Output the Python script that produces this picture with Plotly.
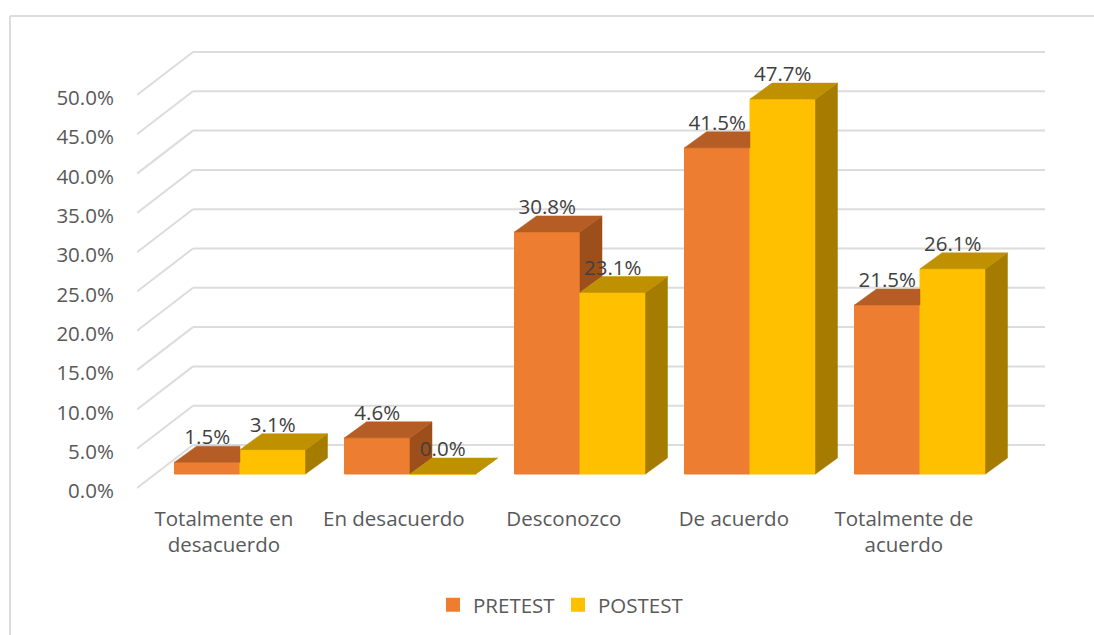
import plotly.graph_objects as go

categories = ["Totalmente en<br>desacuerdo", "En desacuerdo", "Desconozco", "De acuerdo", "Totalmente de<br>acuerdo"]
pretest = [1.5, 4.6, 30.8, 41.5, 21.5]
postest = [3.1, 0.0, 23.1, 47.7, 26.1]
y_ticks = [0, 5, 10, 15, 20, 25, 30, 35, 40, 45, 50]

W, H = 1094, 635
BELOW = 6                # pixels of axis below the front zero line
L, R, T, B = 137, 49, 40, 147 - BELOW
plot_w, plot_h = W - L - R, H - T - B
PX_Y = 393 / 50          # pixels per percentage point
PX_X = 170               # pixels per category
X0 = -103 / PX_X
X1 = X0 + plot_w / PX_X
Y0 = -BELOW / PX_Y
Y1 = Y0 + plot_h / PX_Y
FLOOR = 14 / PX_Y        # bars stand on the floor, above the front zero line
BW = 65.5 / PX_X
DX, DY = 22 / PX_X, 16 / PX_Y     # depth of the bars
WALL_DX, WALL_DY = 56 / PX_X, 43 / PX_Y  # depth of the back wall
LABEL_UP = 23 / PX_Y
TICK_NUDGE = 3 / PX_Y    # y tick labels sit a little below their gridline start

FONT = "Open Sans"
FS = 20.5
AXIS_C, LABEL_C, GRID_C = "#595959", "#404040", "#DCDCDC"
C = {"pre": ("#ED7D31", "#B55D24", "#9C4F1B"), "post": ("#FFC000", "#BF9000", "#A67C00")}

idx = list(range(len(categories)))
fig = go.Figure()

fig.add_bar(name="PRETEST", x=idx, y=pretest, base=FLOOR, width=BW, offset=-BW,
            marker=dict(color=C["pre"][0], line=dict(color=C["pre"][0], width=1)), hoverinfo="skip")
fig.add_bar(name="POSTEST", x=idx, y=postest, base=FLOOR, width=BW, offset=0,
            marker=dict(color=C["post"][0], line=dict(color=C["post"][0], width=1)), hoverinfo="skip")


def poly(xs, ys, color):
    fig.add_scatter(x=xs + xs[:1], y=ys + ys[:1], mode="lines", fill="toself", fillcolor=color,
                    line=dict(color=color, width=0.5), showlegend=False, hoverinfo="skip")


for i, a, b in zip(idx, pretest, postest):
    top_a, top_b = a + FLOOR, b + FLOOR
    xl, xm, xr = i - BW, i, i + BW
    # PRETEST: the POSTEST bar hides whatever is behind it
    if b > a:
        poly([xl, xm, xm, xl + DX], [top_a, top_a, top_a + DY, top_a + DY], C["pre"][1])
    else:
        poly([xm, xm + DX, xm + DX, xm], [top_a, top_a + DY, top_b + DY, top_b], C["pre"][2])
        poly([xl, xm, xm + DX, xl + DX], [top_a, top_a, top_a + DY, top_a + DY], C["pre"][1])
    # POSTEST
    poly([xr, xr + DX, xr + DX, xr], [FLOOR, FLOOR + DY, top_b + DY, top_b], C["post"][2])
    poly([xm, xr, xr + DX, xm + DX], [top_b, top_b, top_b + DY, top_b + DY], C["post"][1])

fig.add_scatter(
    x=[i - BW / 2 for i in idx] + [i + BW / 2 for i in idx],
    y=[v + FLOOR + LABEL_UP for v in pretest + postest],
    text=[f"{v:.1f}%" for v in pretest + postest],
    mode="text", textposition="middle center",
    textfont=dict(family=FONT, size=FS, color=LABEL_C),
    showlegend=False, hoverinfo="skip", cliponaxis=False,
)

shapes = []
for t in y_ticks:
    shapes.append(dict(type="line", xref="x", yref="y", layer="below", x0=X0, y0=t,
                       x1=X0 + WALL_DX, y1=t + WALL_DY, line=dict(color=GRID_C, width=2)))
    shapes.append(dict(type="line", xref="x", yref="y", layer="below", x0=X0 + WALL_DX, y0=t + WALL_DY,
                       x1=X1, y1=t + WALL_DY, line=dict(color=GRID_C, width=2)))
# chart frame: only its top and left edges fall inside the page
frame_y = (T + plot_h - 16) / plot_h
shapes.append(dict(type="line", xref="paper", yref="paper", x0=(10 - L) / plot_w, x1=(W - L) / plot_w,
                   y0=frame_y, y1=frame_y, line=dict(color=GRID_C, width=2)))
shapes.append(dict(type="line", xref="paper", yref="paper", x0=(10 - L) / plot_w, x1=(10 - L) / plot_w,
                   y0=frame_y, y1=-B / plot_h, line=dict(color=GRID_C, width=2)))

fig.update_layout(
    width=W, height=H, margin=dict(l=L, r=R, t=T, b=B, pad=0),
    paper_bgcolor="white", plot_bgcolor="rgba(0,0,0,0)",
    showlegend=True, barmode="overlay", shapes=shapes,
    font=dict(family=FONT, size=FS, color=AXIS_C),
    legend=dict(orientation="h", xref="container", yref="container", x=433 / W, xanchor="left",
                y=1 - 585 / H, yanchor="top", font=dict(family=FONT, size=FS, color=AXIS_C),
                bgcolor="rgba(0,0,0,0)", itemsizing="constant", traceorder="normal",
                entrywidth=80, entrywidthmode="pixels"),
    xaxis=dict(range=[X0, X1], tickmode="array", tickvals=[i - 0.095 for i in idx], ticktext=categories,
               showgrid=False, zeroline=False, showline=False, ticks="outside", ticklen=6,
               tickcolor="rgba(0,0,0,0)", tickfont=dict(family=FONT, size=FS, color=AXIS_C), tickangle=0),
    yaxis=dict(range=[Y0, Y1], tickmode="array", tickvals=[t - TICK_NUDGE for t in y_ticks],
               ticktext=[f"{t:.1f}%" for t in y_ticks],
               showgrid=False, zeroline=False, showline=False, ticks="outside", ticklen=18,
               tickcolor="rgba(0,0,0,0)", tickfont=dict(family=FONT, size=FS, color=AXIS_C)),
)

fig.write_html("out.html", post_script="document.body.style.margin='0';",
               config={"displayModeBar": False})
